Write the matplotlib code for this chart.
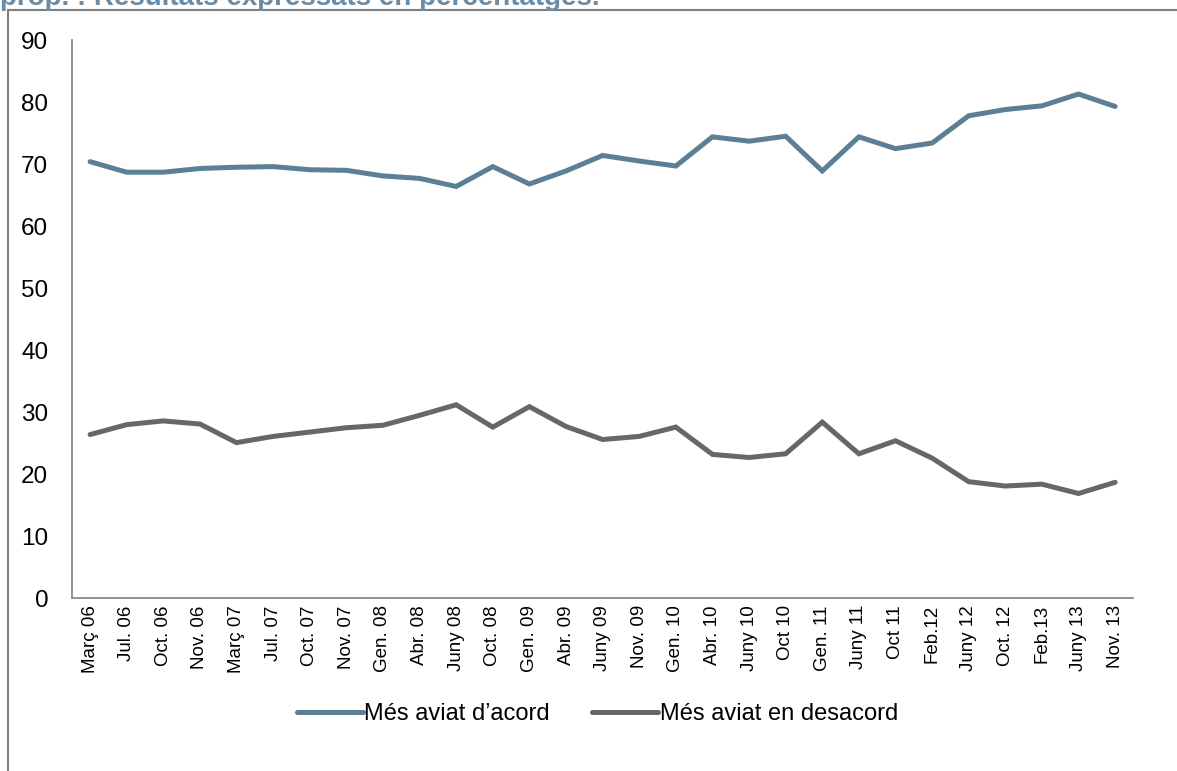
import matplotlib
matplotlib.use("Agg")
import matplotlib.pyplot as plt
from matplotlib.patches import Rectangle

plt.rcParams['font.family'] = ['Liberation Sans', 'DejaVu Sans']

labels = ['Març 06', 'Jul. 06', 'Oct. 06', 'Nov. 06', 'Març 07', 'Jul. 07', 'Oct. 07',
          'Nov. 07', 'Gen. 08', 'Abr. 08', 'Juny 08', 'Oct. 08', 'Gen. 09', 'Abr. 09',
          'Juny 09', 'Nov. 09', 'Gen. 10', 'Abr. 10', 'Juny 10', 'Oct 10', 'Gen. 11',
          'Juny 11', 'Oct 11', 'Feb.12', 'Juny 12', 'Oct. 12', 'Feb.13', 'Juny 13', 'Nov. 13']
acord = [70.4, 68.7, 68.7, 69.3, 69.5, 69.6, 69.1, 69.0, 68.1, 67.7, 66.4, 69.6, 66.8, 68.9,
         71.4, 70.5, 69.7, 74.4, 73.7, 74.5, 68.9, 74.4, 72.5, 73.4, 77.8, 78.8, 79.4, 81.3, 79.3]
desacord = [26.4, 28.0, 28.6, 28.1, 25.1, 26.1, 26.8, 27.5, 27.9, 29.5, 31.2, 27.6, 30.9, 27.7,
            25.6, 26.1, 27.6, 23.2, 22.7, 23.3, 28.4, 23.3, 25.4, 22.6, 18.8, 18.1, 18.4, 16.9, 18.7]

fig = plt.figure(figsize=(11.77, 7.71), dpi=100)
ax = fig.add_axes([0.061, 0.224, 0.902, 0.724])

x = list(range(len(labels)))
ax.plot(x, acord, color='#5b7f95', lw=3.6, solid_capstyle='round', solid_joinstyle='miter',
        label='Més aviat d’acord')
ax.plot(x, desacord, color='#646868', lw=3.6, solid_capstyle='round', solid_joinstyle='miter',
        label='Més aviat en desacord')

ax.set_xlim(-0.5, len(labels) - 0.5)
ax.set_ylim(0, 90)
ax.set_yticks(range(0, 91, 10))
ax.set_xticks(x)
ax.set_xticklabels(labels, rotation=90)
ax.tick_params(axis='y', length=0, labelsize=17.5, pad=17)
ax.tick_params(axis='x', length=0, labelsize=13.5, pad=5)
for s in ['top', 'right']:
    ax.spines[s].set_visible(False)
for s in ['left', 'bottom']:
    ax.spines[s].set_color('#898989')
    ax.spines[s].set_linewidth(1.3)

ax.legend(loc='center', bbox_to_anchor=(0.495, -0.208), ncol=2, frameon=False, fontsize=17,
          handlelength=2.8, handletextpad=0.05, columnspacing=1.8)

# outer chart frame (cropped)
fig.patches.append(Rectangle((8 / 1177, -0.1), 1.2, 1 - 10 / 771 + 0.1, transform=fig.transFigure,
                             fill=False, edgecolor='#7f7f7f', lw=1.5))
fig.text(0.0, 1 - 5 / 771, 'prop. : Resultats expressats en percentatges.', fontsize=20,
         fontweight='bold', color='#6a8ca6', ha='left', va='baseline')

fig.savefig('out.png', dpi=100)
